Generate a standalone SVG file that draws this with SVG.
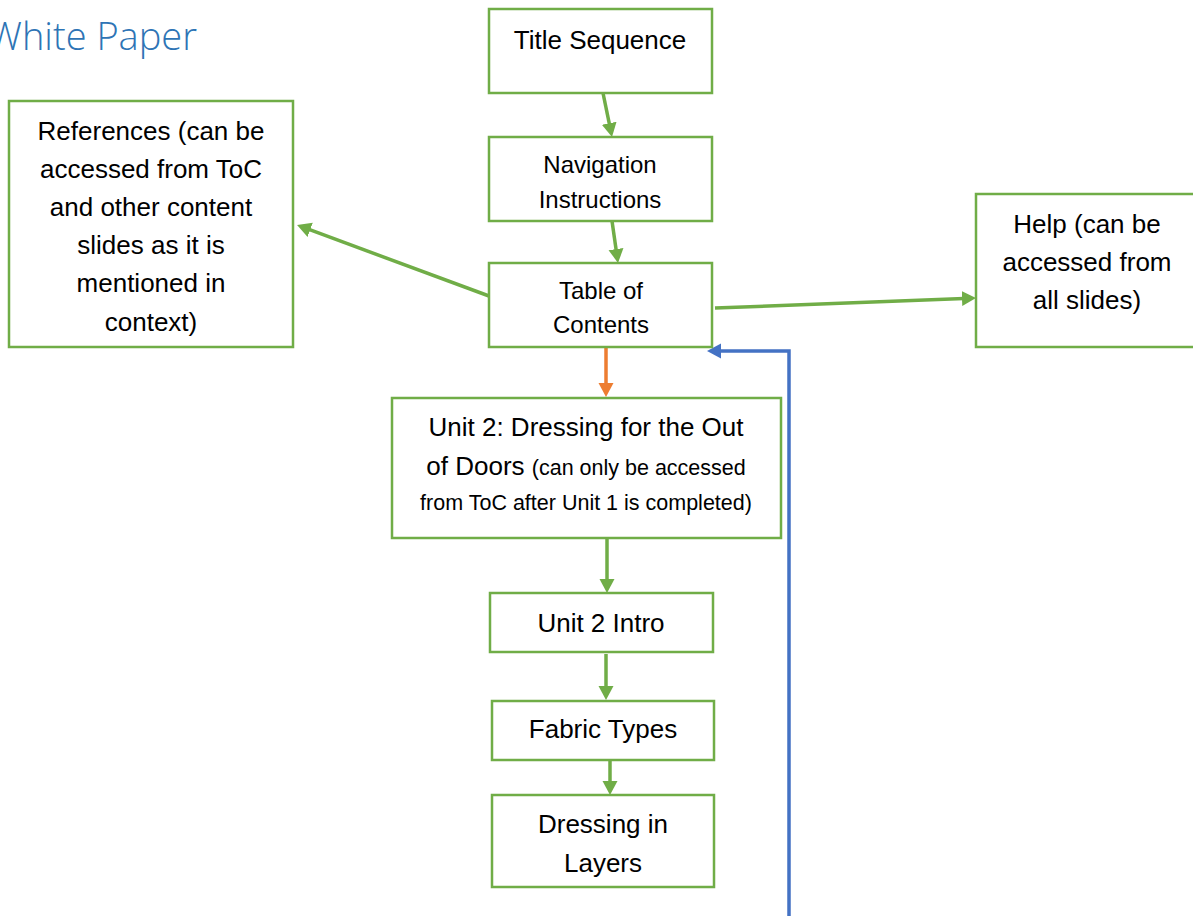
<svg xmlns="http://www.w3.org/2000/svg" width="1193" height="916" viewBox="0 0 1193 916">
<style>
.box{fill:#fff;stroke:#70AD47;stroke-width:2.5}
.t{font-family:"Liberation Sans",Arial,sans-serif;font-size:26px;fill:#000;text-anchor:middle}
.s{font-size:24px}
.sm{font-size:21.5px}
.c{stroke:#70AD47;stroke-width:3.5;fill:none}
.title{font-family:"Open Sans","Liberation Sans",sans-serif;font-weight:300;font-size:38px;fill:#2E74B5}
</style>
<defs>
<marker id="ag" markerUnits="userSpaceOnUse" markerWidth="16" markerHeight="16" refX="2" refY="7.5" orient="auto"><path d="M0,0 L14,7.5 L0,15 z" fill="#70AD47"/></marker>
<marker id="ao" markerUnits="userSpaceOnUse" markerWidth="16" markerHeight="16" refX="2" refY="7.5" orient="auto"><path d="M0,0 L14,7.5 L0,15 z" fill="#ED7D31"/></marker>
<marker id="ab" markerUnits="userSpaceOnUse" markerWidth="16" markerHeight="16" refX="2" refY="7.5" orient="auto"><path d="M0,0 L14,7.5 L0,15 z" fill="#4472C4"/></marker>
</defs>
<rect width="1193" height="916" fill="#fff"/>
<text class="title" x="-12" y="50">White Paper</text>

<g id="connectors">
<line class="c" x1="603" y1="93" x2="609.6" y2="125.2" marker-end="url(#ag)"/>
<line class="c" x1="612" y1="221" x2="616.3" y2="251.1" marker-end="url(#ag)"/>
<line class="c" x1="489" y1="296" x2="308.3" y2="229.2" marker-end="url(#ag)"/>
<line class="c" x1="715" y1="308" x2="964" y2="298.5" marker-end="url(#ag)"/>
<line x1="606" y1="347" x2="606" y2="385" stroke="#ED7D31" stroke-width="3.5" marker-end="url(#ao)"/>
<line class="c" x1="607" y1="538" x2="607" y2="581" marker-end="url(#ag)"/>
<line class="c" x1="606" y1="654" x2="606" y2="688" marker-end="url(#ag)"/>
<line class="c" x1="610" y1="760" x2="610" y2="783" marker-end="url(#ag)"/>
<polyline points="789,916 789,351 719,351" fill="none" stroke="#4472C4" stroke-width="3.5" marker-end="url(#ab)"/>
</g>

<g id="title-sequence"><rect class="box" x="489" y="9" width="223" height="84"/><text class="t" x="600" y="49">Title Sequence</text></g>
<g id="navigation"><rect class="box" x="489" y="137" width="223" height="84"/><text class="t s" x="600" y="173">Navigation</text><text class="t s" x="600" y="208">Instructions</text></g>
<g id="toc"><rect class="box" x="489" y="263" width="223" height="84"/><text class="t s" x="601" y="299">Table of</text><text class="t s" x="601" y="333">Contents</text></g>
<g id="references"><rect class="box" x="9" y="101" width="284" height="246"/>
<text class="t" x="151" y="140">References (can be</text>
<text class="t" x="151" y="178">accessed from ToC</text>
<text class="t" x="151" y="216">and other content</text>
<text class="t" x="151" y="254">slides as it is</text>
<text class="t" x="151" y="292">mentioned in</text>
<text class="t" x="151" y="331">context)</text></g>
<g id="help"><rect class="box" x="976" y="194" width="230" height="153"/>
<text class="t" x="1087" y="233">Help (can be</text>
<text class="t" x="1087" y="271">accessed from</text>
<text class="t" x="1087" y="309">all slides)</text></g>
<g id="unit2"><rect class="box" x="392" y="398" width="389" height="140"/>
<text class="t" x="586" y="436">Unit 2: Dressing for the Out</text>
<text class="t" x="586" y="475">of Doors <tspan class="sm">(can only be accessed</tspan></text>
<text class="t sm" x="586" y="510">from ToC after Unit 1 is completed)</text></g>
<g id="unit2-intro"><rect class="box" x="490" y="593" width="223" height="59"/><text class="t" x="601" y="632">Unit 2 Intro</text></g>
<g id="fabric-types"><rect class="box" x="492" y="701" width="222" height="59"/><text class="t" x="603" y="738">Fabric Types</text></g>
<g id="dressing-layers"><rect class="box" x="492" y="795" width="222" height="92"/><text class="t" x="603" y="833">Dressing in</text><text class="t" x="603" y="872">Layers</text></g>
</svg>
